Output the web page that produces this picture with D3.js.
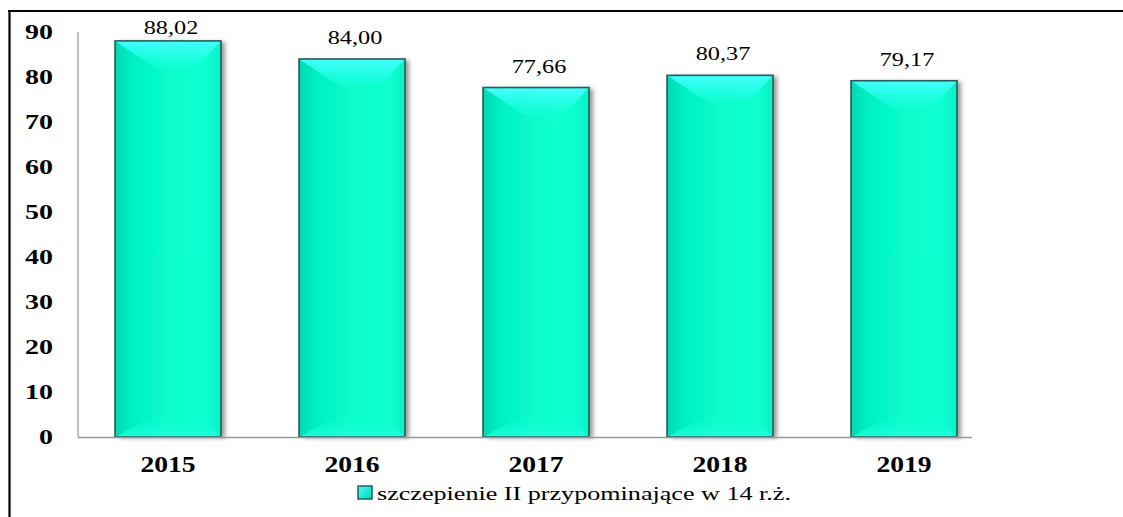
<!DOCTYPE html>
<html>
<head>
<meta charset="utf-8">
<script src="https://cdn.jsdelivr.net/npm/d3@7/dist/d3.min.js"></script>
<style>
  html, body { margin: 0; padding: 0; background: #fff; }
  svg { display: block; }
  svg text { font-family: "Liberation Serif", "Times New Roman", Times, serif; fill: #000; }
</style>
</head>
<body>
<svg id="chart" width="1123" height="517"></svg>
<script>
const categories = ["2015", "2016", "2017", "2018", "2019"];
const values = [88.02, 84.00, 77.66, 80.37, 79.17];
const valueLabels = ["88,02", "84,00", "77,66", "80,37", "79,17"];
const yTicks = [0, 10, 20, 30, 40, 50, 60, 70, 80, 90];
const seriesName = "szczepienie II przypominające w 14 r.ż.";

const FONT = '"Liberation Serif", "Times New Roman", Times, serif';
const svg = d3.select("#chart");
const W = 1123, H = 517;

// defs
const defs = svg.append("defs");
const baseGrad = defs.append("linearGradient").attr("id", "baseGrad")
  .attr("x1", "0").attr("x2", "1").attr("y1", "0").attr("y2", "0");
baseGrad.append("stop").attr("offset", "0").attr("stop-color", "#00d9b2");
baseGrad.append("stop").attr("offset", "0.18").attr("stop-color", "#05f2c6");
baseGrad.append("stop").attr("offset", "0.5").attr("stop-color", "#07fccd");
baseGrad.append("stop").attr("offset", "0.85").attr("stop-color", "#0affd0");
baseGrad.append("stop").attr("offset", "1").attr("stop-color", "#08f0c6");

const topGrad = defs.append("linearGradient").attr("id", "topGrad")
  .attr("x1", "0").attr("x2", "0").attr("y1", "0").attr("y2", "1");
topGrad.append("stop").attr("offset", "0").attr("stop-color", "#45ffff");
topGrad.append("stop").attr("offset", "1").attr("stop-color", "#12ffd8").attr("stop-opacity", "0.6");

const botGrad = defs.append("linearGradient").attr("id", "botGrad")
  .attr("x1", "0").attr("x2", "0").attr("y1", "0").attr("y2", "1");
botGrad.append("stop").attr("offset", "0").attr("stop-color", "#0affd0").attr("stop-opacity", "0");
botGrad.append("stop").attr("offset", "1").attr("stop-color", "#1effe0").attr("stop-opacity", "0.9");

const shadow = defs.append("filter").attr("id", "shadow")
  .attr("x", "-20%").attr("y", "-10%").attr("width", "150%").attr("height", "130%");
shadow.append("feDropShadow").attr("dx", 4).attr("dy", 1).attr("stdDeviation", 2.2)
  .attr("flood-color", "#555").attr("flood-opacity", 0.6);

const legGrad = defs.append("linearGradient").attr("id", "legGrad")
  .attr("x1", "0").attr("x2", "1").attr("y1", "0").attr("y2", "1");
legGrad.append("stop").attr("offset", "0").attr("stop-color", "#40ffff");
legGrad.append("stop").attr("offset", "1").attr("stop-color", "#00d9b2");

// outer frame lines (top and left)
svg.append("line").attr("x1", 8).attr("x2", W).attr("y1", 11).attr("y2", 11)
  .attr("stroke", "#000").attr("stroke-width", 2.2);
svg.append("line").attr("x1", 9.5).attr("x2", 9.5).attr("y1", 10).attr("y2", H)
  .attr("stroke", "#000").attr("stroke-width", 2.2);

// scales
const x = d3.scaleBand().domain(categories).range([76, 996])
  .paddingInner(0.424).paddingOuter(0.212);
const y = d3.scaleLinear().domain([0, 90]).range([437, 32]);

// y axis line
svg.append("line").attr("x1", 78).attr("x2", 78).attr("y1", y(90)).attr("y2", y(0))
  .attr("stroke", "#999").attr("stroke-width", 1.2);

// y tick labels
const yAxis = d3.axisLeft(y).tickValues(yTicks).tickSize(0).tickPadding(0).tickFormat(d3.format("d"));
const yG = svg.append("g").attr("transform", "translate(53,0)").call(yAxis);
yG.attr("font-family", FONT);
yG.select(".domain").remove();
yG.selectAll(".tick").each(function() {
  const tk = d3.select(this);
  const t = tk.select("text");
  const txt = t.text();
  t.remove();
  tk.append("text")
    .attr("transform", "scale(1.4,1)")
    .attr("x", 0).attr("dy", "0.34em")
    .attr("text-anchor", "end")
    .style("font-family", FONT)
    .style("font-weight", "bold").style("font-size", "20px")
    .text(txt);
});

// bars
const bars = svg.append("g").selectAll("g.bar").data(categories.map((c, i) => ({c, v: values[i], l: valueLabels[i]})))
  .join("g").attr("class", "bar");

bars.each(function(d) {
  const g = d3.select(this);
  const x0 = x(d.c), w = x.bandwidth();
  const y0 = y(d.v), y1 = y(0);
  const h = y1 - y0;
  g.append("rect").attr("x", x0).attr("y", y0).attr("width", w).attr("height", h)
    .attr("fill", "url(#baseGrad)").attr("filter", "url(#shadow)");
  const dTop = 27, dBot = 22;
  g.append("path")
    .attr("d", `M${x0},${y0} L${x0 + w},${y0} L${x0 + w - 0.24 * w},${y0 + dTop} L${x0 + 0.38 * w},${y0 + dTop} Z`)
    .attr("fill", "url(#topGrad)");
  g.append("path")
    .attr("d", `M${x0},${y1} L${x0 + w},${y1} L${x0 + w - 0.28 * w},${y1 - dBot} L${x0 + 0.38 * w},${y1 - dBot} Z`)
    .attr("fill", "url(#botGrad)");
  g.append("rect").attr("x", x0).attr("y", y0).attr("width", w).attr("height", h)
    .attr("fill", "none").attr("stroke", "#245f56").attr("stroke-width", 1.6);
  const ly = Math.max(y0 - 15, 34);
  g.append("text")
    .attr("transform", `translate(${x0 + w / 2 + 3},${ly}) scale(1.35,1)`)
    .attr("text-anchor", "middle")
    .style("font-family", FONT)
    .style("font-size", "18px")
    .text(d.l);
});

// x axis baseline
svg.append("line").attr("x1", 78).attr("x2", 972).attr("y1", y(0) + 0.5).attr("y2", y(0) + 0.5)
  .attr("stroke", "#999").attr("stroke-width", 1.4);

// x category labels
const xAxis = d3.axisBottom(x).tickSize(0).tickPadding(0);
const xG = svg.append("g").call(xAxis);
xG.attr("font-family", FONT);
xG.select(".domain").remove();
xG.selectAll(".tick").each(function() {
  const tk = d3.select(this);
  const t = tk.select("text");
  const txt = t.text();
  t.remove();
  tk.append("text")
    .attr("transform", "translate(0,472) scale(1.15,1)")
    .attr("text-anchor", "middle")
    .style("font-family", FONT)
    .style("font-weight", "bold").style("font-size", "24px")
    .text(txt);
});

// legend
const leg = svg.append("g");
leg.append("rect").attr("x", 358).attr("y", 486).attr("width", 14).attr("height", 13)
  .attr("fill", "url(#legGrad)").attr("stroke", "#245f56").attr("stroke-width", 1.5);
leg.append("text").attr("x", 377).attr("y", 500)
  .style("font-family", FONT)
  .style("font-size", "18px")
  .attr("textLength", 414).attr("lengthAdjust", "spacingAndGlyphs")
  .text(seriesName);
</script>
</body>
</html>
